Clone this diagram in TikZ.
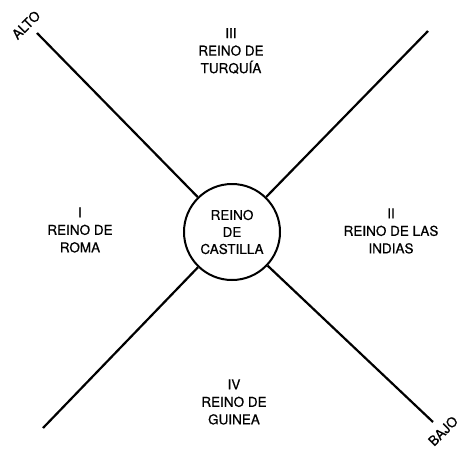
\documentclass[tikz,border=0pt]{standalone}
\usepackage{fontspec}
\setmainfont[FakeBold=0.6]{TeX Gyre Heros}
\begin{document}
\begin{tikzpicture}[x=1pt,y=-1pt,
  lbl/.style={align=center,font=\fontsize{13.5}{17.5}\selectfont,inner sep=0pt},
  axis/.style={line width=2.2pt},
  ring/.style={circle,draw,line width=2pt,minimum size=96pt,inner sep=0pt,align=center,font=\fontsize{13.5}{17}\selectfont}]
\useasboundingbox (0,0) rectangle (461,448);
\node[ring] (c) at (232,232) {REINO\\DE\\CASTILLA};
\coordinate (tl) at (37,33);
\coordinate (tr) at (428,31);
\coordinate (bl) at (43,428);
\coordinate (br) at (433,422);
\draw[axis] (tl) -- (c);
\draw[axis] (tr) -- (c);
\draw[axis] (bl) -- (c);
\draw[axis] (br) -- (c);
\node[lbl] (n3) at (231,51) {III\\REINO DE\\TURQUÍA};
\node[lbl] (n1) at (80,230) {I\\REINO DE\\ROMA};
\node[lbl] (n2) at (391,231) {II\\REINO DE LAS\\INDIAS};
\node[lbl] (n4) at (234,402) {IV\\REINO DE\\GUINEA};
\node[lbl,rotate=45] (alto) at (26,25) {ALTO};
\node[lbl,rotate=45] (bajo) at (443,431) {BAJO};
\end{tikzpicture}
\end{document}
